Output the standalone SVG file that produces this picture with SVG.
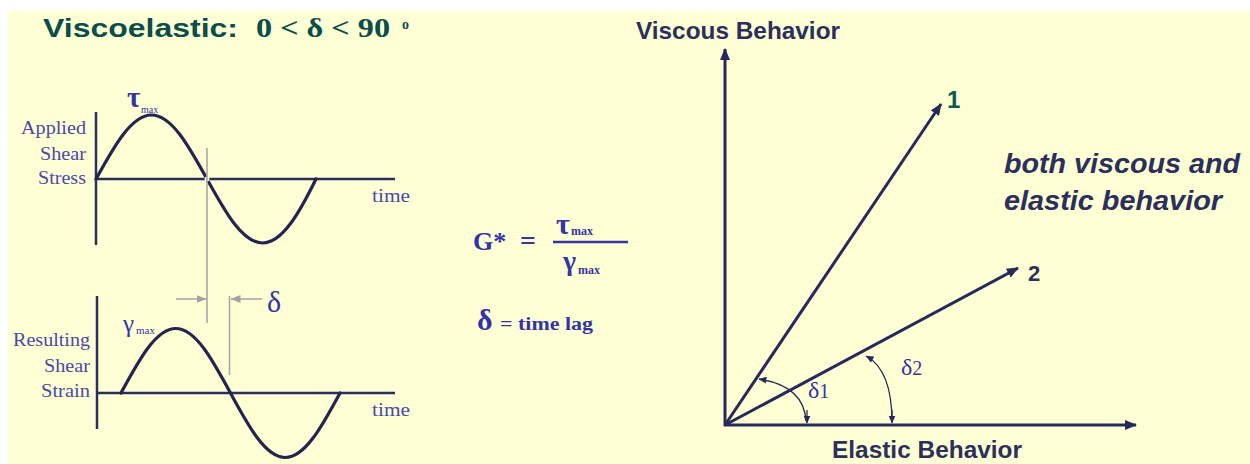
<svg xmlns="http://www.w3.org/2000/svg" width="1250" height="464" viewBox="0 0 1250 464">
<style>
.bg{fill:#FFFFD6}
.ax{stroke:#2a2e5e;stroke-width:2.5;fill:none}
.wave{stroke:#22254f;stroke-width:3.2;fill:none;stroke-linecap:round}
.gray{stroke:#a9a9a9;stroke-width:1.6;fill:none}
.vec{stroke:#262a5a;stroke-width:3;fill:none}
.arc{stroke:#262a5a;stroke-width:1.3;fill:none}
.lbl{font-family:"Liberation Serif",serif;font-size:19px;fill:#4a4aa6}
.sym{font-family:"Liberation Serif",serif;fill:#3434a6}
.hd{font-family:"Liberation Sans",Arial,sans-serif;font-weight:bold;fill:#2b2f5c}
</style>
<defs>
<marker id="ah" viewBox="0 0 12 10" refX="11" refY="5" markerWidth="12" markerHeight="10" markerUnits="userSpaceOnUse" orient="auto"><path d="M0,0 L12,5 L0,10 Z" fill="#262a5a"/></marker>
<marker id="sa" viewBox="0 0 8 7" refX="7.5" refY="3.5" markerWidth="8" markerHeight="7" markerUnits="userSpaceOnUse" orient="auto"><path d="M0,0 L8,3.5 L0,7 Z" fill="#262a5a"/></marker>
<marker id="ga" viewBox="0 0 10 8" refX="9.5" refY="4" markerWidth="10" markerHeight="8" markerUnits="userSpaceOnUse" orient="auto"><path d="M0,0 L10,4 L0,8 Z" fill="#a3a3a3"/></marker>
</defs>
<rect class="bg" x="8" y="11" width="1242" height="453"/>

<g id="title">
<text x="43" y="37" font-family="Liberation Sans,Arial,sans-serif" font-weight="bold" font-size="25" fill="#0b4d4a" textLength="195" lengthAdjust="spacingAndGlyphs">Viscoelastic:</text>
<text x="256" y="37" font-family="Liberation Serif,serif" font-weight="bold" font-size="28" fill="#0b4d4a" textLength="134" lengthAdjust="spacingAndGlyphs">0 &lt; δ &lt; 90</text>
<text x="402" y="29" font-family="Liberation Serif,serif" font-weight="bold" font-size="14" fill="#0b4d4a">o</text>
</g>

<g id="stress-graph">
<line class="ax" x1="96" y1="112" x2="96" y2="245"/>
<line class="ax" x1="96" y1="179" x2="395" y2="179"/>
<path class="wave" d="M96,179 C114.1,146.2 131.4,115 151.5,115 C171.6,115 188.9,146.2 207,179 C225.1,211.8 242.4,243 262.5,243 C282.6,243 299.9,211.8 316,179"/>
<circle cx="207" cy="179" r="2.5" fill="#f4f4e4"/>
<text class="lbl" x="86" y="134" text-anchor="end" textLength="65" lengthAdjust="spacingAndGlyphs">Applied</text>
<text class="lbl" x="86" y="160" text-anchor="end" textLength="46" lengthAdjust="spacingAndGlyphs">Shear</text>
<text class="lbl" x="86" y="184" text-anchor="end" textLength="48" lengthAdjust="spacingAndGlyphs">Stress</text>
<text class="lbl" x="372" y="202" textLength="38" lengthAdjust="spacingAndGlyphs">time</text>
<text class="sym" x="127" y="107" font-size="29" font-weight="bold">τ</text>
<text class="sym" x="141" y="113" font-size="10">max</text>
</g>

<g id="strain-graph">
<line class="ax" x1="97" y1="296" x2="97" y2="429"/>
<line class="ax" x1="97" y1="393" x2="395" y2="393"/>
<path class="wave" d="M121,393 C138.9,360 155.9,328.5 175.75,328.5 C195.6,328.5 212.6,360 230.5,393 C248.4,426 265.4,457.5 285.25,457.5 C305.1,457.5 322.1,426 340,393"/>
<text class="lbl" x="90" y="346" text-anchor="end" textLength="77" lengthAdjust="spacingAndGlyphs">Resulting</text>
<text class="lbl" x="90" y="372" text-anchor="end" textLength="46" lengthAdjust="spacingAndGlyphs">Shear</text>
<text class="lbl" x="90" y="397" text-anchor="end" textLength="49" lengthAdjust="spacingAndGlyphs">Strain</text>
<text class="lbl" x="372" y="416" textLength="38" lengthAdjust="spacingAndGlyphs">time</text>
<text class="sym" x="123" y="332" font-size="25">γ</text>
<text class="sym" x="136" y="334" font-size="11">max</text>
</g>

<g id="lag">
<line class="gray" x1="207" y1="148" x2="207" y2="323"/>
<line class="gray" x1="229.5" y1="296" x2="229.5" y2="375"/>
<line class="gray" x1="176" y1="299" x2="206" y2="299" marker-end="url(#ga)"/>
<line class="gray" x1="262" y1="299" x2="231" y2="299" marker-end="url(#ga)"/>
<text class="sym" x="267" y="312" font-size="30">δ</text>
</g>

<g id="formula">
<text class="sym" x="473" y="250" font-size="26" font-weight="bold">G*</text>
<text class="sym" x="520" y="250" font-size="28" font-weight="bold">=</text>
<text class="sym" x="556" y="234" font-size="30" font-weight="bold">τ</text>
<text class="sym" x="571" y="235" font-size="12" font-weight="bold">max</text>
<line x1="553" y1="242" x2="628" y2="242" stroke="#3434a6" stroke-width="2.5"/>
<text class="sym" x="563" y="270" font-size="28" font-weight="bold">γ</text>
<text class="sym" x="578" y="274" font-size="12" font-weight="bold">max</text>
<text class="sym" x="477" y="330" font-size="30" font-weight="bold">δ</text>
<text class="sym" x="500" y="330" font-size="18" font-weight="bold" textLength="93" lengthAdjust="spacingAndGlyphs">= time lag</text>
</g>

<g id="connectors">
<line class="vec" x1="725" y1="426" x2="725" y2="49" marker-end="url(#ah)"/>
<line class="vec" x1="724" y1="425" x2="1136" y2="425" marker-end="url(#ah)"/>
<line class="vec" x1="725" y1="425" x2="941" y2="104" marker-end="url(#ah)"/>
<line class="vec" x1="725" y1="425" x2="1018" y2="268" marker-end="url(#ah)"/>
<path class="arc" d="M806,421 Q804,386 759,379" marker-end="url(#sa)"/>
<path class="arc" d="M807,410 L807,423" marker-end="url(#sa)"/>
<path class="arc" d="M892,422 Q892,370 866,356" marker-end="url(#sa)"/>
<path class="arc" d="M892,410 L892,423" marker-end="url(#sa)"/>
</g>

<g id="vector-labels">
<text class="hd" x="636" y="39" font-size="24" textLength="204" lengthAdjust="spacingAndGlyphs">Viscous Behavior</text>
<text class="hd" x="832" y="458" font-size="23" textLength="190" lengthAdjust="spacingAndGlyphs">Elastic Behavior</text>
<text class="hd" x="947" y="108" font-size="24" style="fill:#0d5a50">1</text>
<text class="hd" x="1028" y="281" font-size="22">2</text>
<text class="hd" x="1004" y="173" font-size="28" font-style="italic" textLength="236" lengthAdjust="spacingAndGlyphs">both viscous and</text>
<text class="hd" x="1004" y="210" font-size="28" font-style="italic" textLength="218" lengthAdjust="spacingAndGlyphs">elastic behavior</text>
<text class="sym" x="808" y="398" font-size="24" fill="#4848a8">δ<tspan font-size="20">1</tspan></text>
<text class="sym" x="901" y="375" font-size="24" fill="#4848a8">δ<tspan font-size="20">2</tspan></text>
</g>
</svg>
